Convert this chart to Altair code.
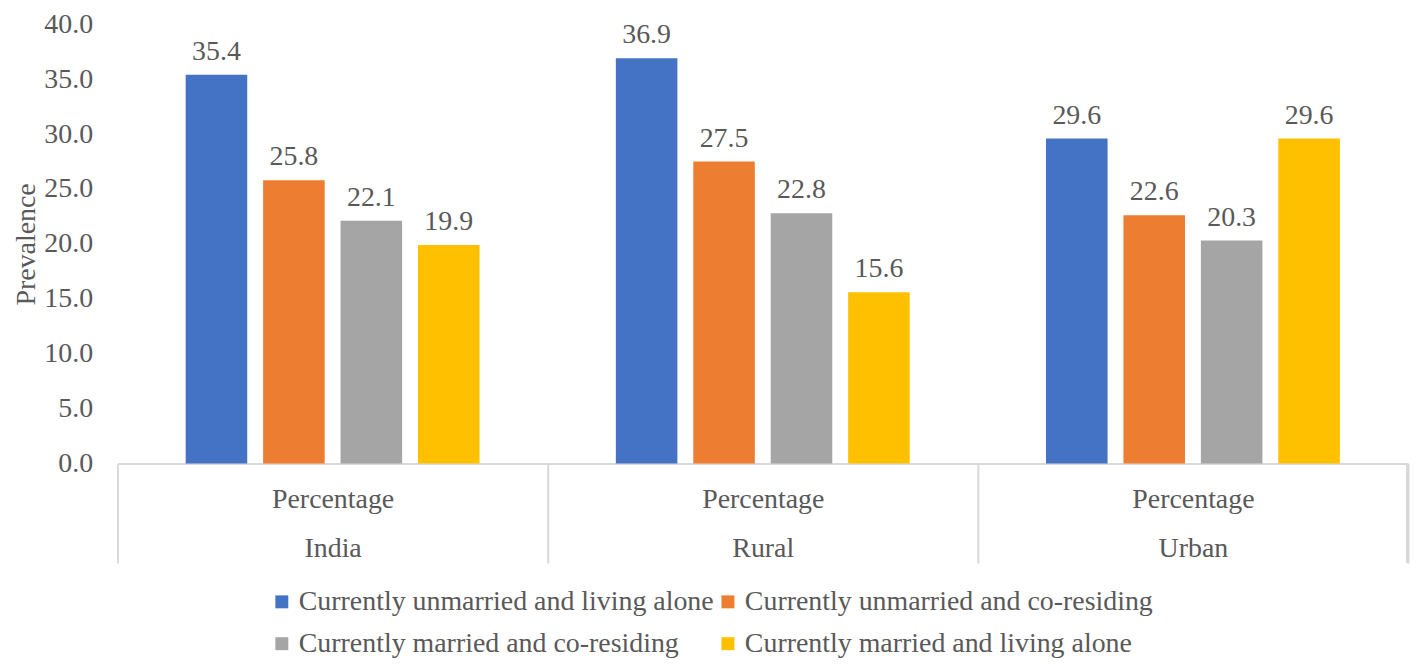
import altair as alt
import pandas as pd

groups = ["India", "Rural", "Urban"]
series = [
    "Currently unmarried and living alone",
    "Currently unmarried and co-residing",
    "Currently married and co-residing",
    "Currently married and living alone",
]
india = [35.4, 25.8, 22.1, 19.9]
rural = [36.9, 27.5, 22.8, 15.6]
urban = [29.6, 22.6, 20.3, 29.6]
colors = ["#4472C4", "#ED7D31", "#A5A5A5", "#FFC000"]
y_ticks = [0, 5, 10, 15, 20, 25, 30, 35, 40]

rows = []
for g, vals in zip(groups, [india, rural, urban]):
    for s, v in zip(series, vals):
        rows.append({"group": g, "series": s, "value": v})
df = pd.DataFrame(rows)

FONT = "Liberation Serif"
TXT = "#595959"
FS = 28
W, H = 1296, 441

x = alt.X(
    "group:N",
    sort=groups,
    scale=alt.Scale(paddingInner=0, paddingOuter=0),
    axis=alt.Axis(
        title=None,
        labelAngle=0,
        domainColor="#D9D9D9",
        domainWidth=2,
        tickColor="#D9D9D9",
        tickWidth=2,
        tickSize=100,
        tickBand="extent",
        labelPadding=-78,
        labelExpr="indexof(['India','Rural','Urban'], datum.value) >= 0 ? ['Percentage', datum.label] : ''",
        labelLineHeight=49,
        labelFontSize=FS,
        labelFont=FONT,
        labelColor=TXT,
    ),
)
xo = alt.XOffset("series:N", sort=series, scale=alt.Scale(paddingInner=0.205, paddingOuter=0.88))
y = alt.Y(
    "value:Q",
    scale=alt.Scale(domain=[0, 40]),
    axis=alt.Axis(
        title="Prevalence",
        values=y_ticks,
        format=".1f",
        grid=False,
        ticks=False,
        domain=False,
        labelPadding=25,
        labelFontSize=FS,
        labelFont=FONT,
        labelColor=TXT,
        titleFontSize=FS,
        titleFont=FONT,
        titleColor=TXT,
        titleFontWeight="normal",
        titlePadding=3,
    ),
)
color = alt.Color(
    "series:N",
    sort=series,
    scale=alt.Scale(domain=series, range=colors),
    legend=alt.Legend(
        title=None,
        orient="none",
        direction="horizontal",
        legendX=151,
        legendY=566,
        columns=2,
        symbolType="square",
        symbolSize=169,
        symbolStrokeWidth=0,
        labelFontSize=FS,
        labelFont=FONT,
        labelColor=TXT,
        labelOffset=3,
        columnPadding=-5,
        rowPadding=14,
        padding=0,
        labelLimit=700,
    ),
)

bars = alt.Chart(df).mark_bar().encode(x=x, xOffset=xo, y=y, color=color)
labels = alt.Chart(df).mark_text(
    baseline="alphabetic", dy=-15, fontSize=FS, font=FONT, color=TXT
).encode(x=x, xOffset=xo, y=y, text=alt.Text("value:Q", format=".1f"))
right_edge = alt.Chart(df).mark_rule(color="#D9D9D9", strokeWidth=2).encode(
    x=alt.value(W - 1), y=alt.value(H), y2=alt.value(H + 100)
)

chart = (
    alt.layer(bars, labels, right_edge)
    .properties(
        width=W,
        height=H,
        autosize=alt.AutoSizeParams(type="none"),
        padding={"left": 110, "top": 15, "right": 2, "bottom": 196},
        background="white",
    )
    .configure_view(stroke=None)
)

chart.save("out.html", embed_options={"renderer": "svg", "actions": False})
